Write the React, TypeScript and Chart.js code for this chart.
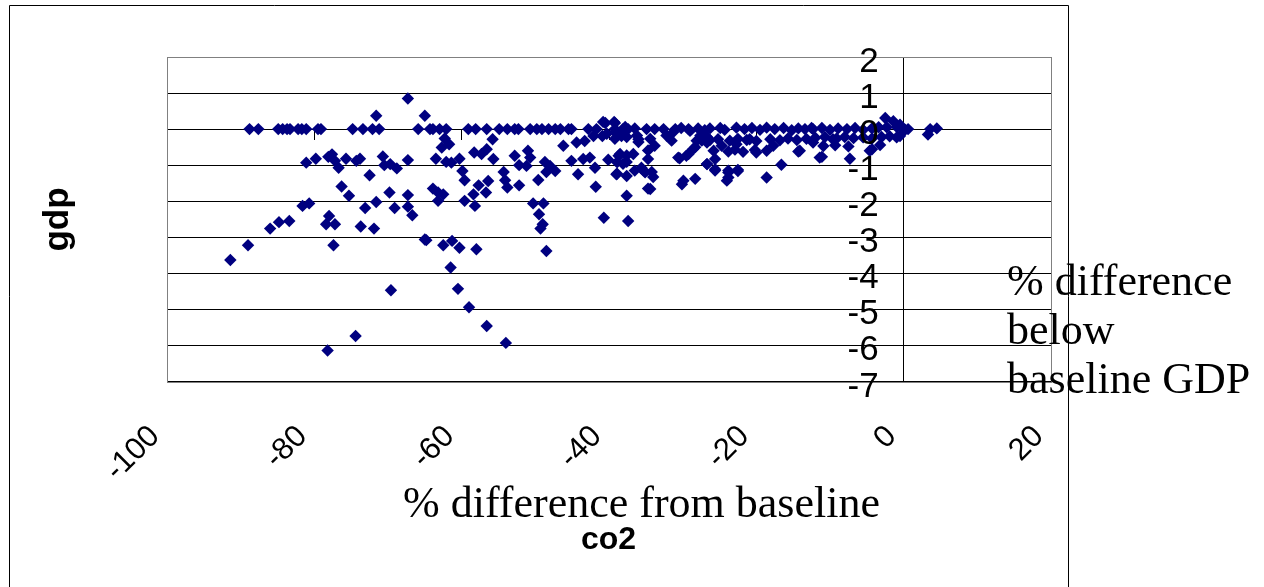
import React, { useEffect, useRef } from "react";
import { Chart, registerables } from "chart.js";

Chart.register(...registerables);

// ---- Axis ticks and texts ----
const xTickValues = [-100, -80, -60, -40, -20, 0, 20];
const yTickValues = [2, 1, 0, -1, -2, -3, -4, -5, -6, -7];
const xAxisCaption = "% difference from baseline";
const xAxisTitle = "co2";
const yAxisTitle = "gdp";
const yAxisCaption = ["% difference", "below", "baseline GDP"];

// ---- Data: [co2 % difference, gdp % difference] ----
const zeroRowPoints: [number, number][] = [
  [-88.8, 0], [-87.6, 0], [-84.9, 0], [-84.3, 0], [-83.7, 0], [-83.3, 0], [-82.2, 0],
  [-81.7, 0], [-81.1, 0], [-79.5, 0], [-79.1, 0], [-74.8, 0], [-73.4, 0], [-72.1, 0],
  [-71.2, 0], [-65.9, 0], [-64.3, 0], [-63.9, 0], [-63.0, 0], [-62.1, 0], [-59.1, 0],
  [-58.1, 0], [-56.6, 0], [-54.9, 0], [-53.8, 0], [-52.8, 0], [-52.3, 0], [-50.7, 0],
  [-49.8, 0], [-49.1, 0], [-48.2, 0], [-47.3, 0], [-46.6, 0], [-45.5, 0], [-45.1, 0],
  [-42.8, 0], [-41.7, 0], [-39.2, 0], [-38.1, 0], [-37.4, 0], [-34.9, 0], [-33.8, 0],
  [-32.6, 0], [-31.0, 0], [-29.2, 0],
];

const leftPoints: [number, number][] = [
  [-67.3, 0.85], [-71.6, 0.37], [-65.0, 0.37], [-81.1, -0.93], [-79.8, -0.82],
  [-78.1, -0.77], [-77.6, -0.7], [-77.2, -0.88], [-76.7, -1.07], [-75.7, -0.82],
  [-74.3, -0.88], [-73.8, -0.82], [-72.5, -1.28], [-70.7, -0.76], [-70.5, -1.0],
  [-69.7, -0.97], [-68.8, -1.09], [-67.3, -0.86], [-76.3, -1.59], [-75.3, -1.85],
  [-69.8, -1.76], [-67.3, -1.83], [-71.6, -2.02], [-73.1, -2.19], [-69.1, -2.19],
  [-67.3, -2.15], [-66.7, -2.39], [-81.6, -2.13], [-80.7, -2.06], [-83.4, -2.55],
  [-84.8, -2.58], [-86.0, -2.76], [-78.0, -2.41], [-78.4, -2.64], [-77.2, -2.64],
  [-73.7, -2.7], [-71.9, -2.76], [-65.0, -3.06], [-89.0, -3.22], [-91.4, -3.63],
  [-77.4, -3.22], [-69.6, -4.47], [-74.4, -5.74], [-78.2, -6.14],
];

const midPoints: [number, number][] = [
  [-40.8, 0.2], [-39.3, 0.2], [-62.3, -0.26], [-61.7, -0.42], [-62.7, -0.51],
  [-55.8, -0.28], [-56.6, -0.56], [-57.3, -0.69], [-58.3, -0.65], [-63.5, -0.82],
  [-62.1, -0.91], [-61.4, -0.93], [-60.3, -0.82], [-55.7, -0.83], [-52.8, -0.74],
  [-52.2, -1.0], [-51.0, -0.6], [-50.7, -0.79], [-51.2, -1.02], [-48.7, -0.91],
  [-48.0, -1.02], [-47.3, -1.16], [-48.5, -1.19], [-46.2, -0.46], [-44.4, -0.37],
  [-43.3, -0.33], [-42.1, -0.19], [-40.9, -0.19], [-38.3, -0.19], [-45.1, -0.88],
  [-43.5, -0.83], [-42.6, -0.79], [-41.9, -1.07], [-40.1, -0.85], [-38.7, -0.74],
  [-37.6, -0.91], [-36.7, -0.69], [-36.0, -0.28], [-35.6, -1.07], [-39.0, -1.25],
  [-37.6, -1.3], [-44.2, -1.25], [-59.9, -1.16], [-59.6, -1.42], [-54.3, -1.19],
  [-54.1, -1.42], [-53.8, -1.62], [-52.2, -1.56], [-49.6, -1.41], [-41.8, -1.6],
  [-34.7, -1.65], [-37.6, -1.85], [-63.9, -1.65], [-63.2, -1.76], [-62.5, -1.81],
  [-63.2, -1.99], [-57.7, -1.56], [-58.4, -1.81], [-56.7, -1.76], [-56.4, -1.44],
  [-59.6, -1.99], [-58.2, -2.13], [-50.3, -2.06], [-48.9, -2.06], [-49.5, -2.36],
  [-49.0, -2.64], [-49.3, -2.76], [-40.7, -2.46], [-37.4, -2.55], [-64.8, -3.08],
  [-62.5, -3.22], [-61.3, -3.1], [-60.3, -3.29], [-58.0, -3.33], [-48.5, -3.38],
  [-61.5, -3.84], [-60.5, -4.43], [-59.0, -4.94], [-56.6, -5.46], [-54.0, -5.93],
];

const nearPoints: [number, number][] = [
  [-40.5, 0.17], [-39.2, 0.17], [-40.3, -0.13], [-39.2, -0.08], [-39.2, -0.27],
  [-37.8, 0.06], [-37.6, -0.22], [-36.2, -0.18], [-36.0, -0.36], [-34.4, -0.27],
  [-32.2, -0.18], [-31.5, -0.32], [-27.6, -0.18], [-28.1, -0.32], [-26.7, -0.22],
  [-28.3, -0.5], [-29.2, -0.69], [-30.4, -0.81], [-34.7, -0.59], [-34.7, -0.83],
  [-38.5, -0.69], [-37.6, -0.73], [-38.9, -0.92], [-38.1, -0.96], [-38.9, -1.24],
  [-36.5, -1.15], [-35.3, -1.15], [-34.2, -1.19], [-34.0, -1.33], [-34.4, -1.66],
  [-29.9, -1.43], [-28.3, -1.38], [-27.4, -0.32], [-30.6, -0.79], [-29.5, -0.74],
  [-28.6, -0.56], [-30.1, -1.53], [-26.7, -0.97], [-25.6, -1.11], [-23.8, -1.2],
  [-22.5, -1.16], [-26.7, -0.37], [-24.7, -0.46], [-22.7, -0.42], [-20.0, -0.65],
  [-14.1, -0.6], [-11.4, -0.79], [-4.6, -0.6], [-29.0, -0.05], [-31.3, -0.09],
  [-17.7, -0.46], [-20.9, -0.28], [-12.3, -0.37], [-9.6, -0.28], [-33.8, -0.46],
  [-35.1, -1.2], [-36.5, 0.02], [-30.2, 0.03], [-27.9, 0.02], [-27.0, -0.03],
];

const rightPoints: [number, number][] = [
  [-26.3, 0.02], [-24.9, 0.03], [-24.3, -0.02], [-22.7, 0.04], [-21.6, 0.0],
  [-20.6, 0.03], [-19.5, -0.02], [-18.6, 0.04], [-17.5, 0.0], [-16.3, 0.03],
  [-15.2, -0.03], [-14.3, 0.02], [-13.4, 0.0], [-12.5, 0.03],
  [-26.3, -0.3], [-25.2, -0.28], [-23.6, -0.32], [-22.5, -0.27], [-21.3, -0.3],
  [-20.0, -0.33], [-18.1, -0.28], [-16.8, -0.31], [-15.7, -0.26], [-14.5, -0.3],
  [-13.2, -0.27],
  [-25.8, -0.6], [-23.8, -0.62], [-22.9, -0.57], [-21.8, -0.63], [-20.2, -0.58],
  [-18.6, -0.6], [-14.3, -0.62],
  [-25.6, -0.83], [-26.7, -0.97], [-25.6, -1.15], [-23.8, -1.15], [-22.5, -1.13],
  [-24.0, -1.43], [-16.6, -0.99], [-18.6, -1.34], [-23.8, -1.34],
  [-12.3, 0.0], [-11.1, 0.03], [-10.0, -0.02], [-8.9, 0.02], [-7.7, 0.0],
  [-6.6, 0.03], [-5.5, -0.02], [-4.3, 0.02], [-3.4, 0.05], [-0.9, 0.05],
  [0.2, -0.02], [-2.5, 0.31], [-1.4, 0.22], [-2.3, 0.05], [-0.5, 0.12],
  [-12.0, -0.24], [-10.7, -0.22], [-9.1, -0.26], [-8.0, -0.22], [-6.8, -0.25],
  [-5.5, -0.23], [-4.3, -0.26], [-3.0, -0.22], [-1.9, -0.2],
  [-10.9, -0.47], [-9.3, -0.45], [-7.5, -0.48], [-3.2, -0.44],
  [-11.1, -0.77], [-7.3, -0.82], [-4.3, -0.56], [-0.5, -0.19], [0.6, 0.0],
  [-0.95, -0.23], [3.6, 0.0], [4.5, 0.02], [3.3, -0.15],
];

const SANS = '"Liberation Sans", Arial, sans-serif';
const SERIF = '"Liberation Serif", "Times New Roman", serif';

const overlayPlugin = {
  id: "overlay",
  beforeDatasetsDraw(chart: any) {
    const { ctx, chartArea: a } = chart;
    ctx.save();
    ctx.strokeStyle = "#808080";
    ctx.lineWidth = 1;
    ctx.strokeRect(
      Math.round(a.left) + 0.5,
      Math.round(a.top) + 0.5,
      Math.round(a.right) - Math.round(a.left),
      Math.round(a.bottom) - Math.round(a.top)
    );
    ctx.restore();
  },
  afterDraw(chart: any) {
    const { ctx } = chart;
    const xs = chart.scales.x;
    const ys = chart.scales.y;
    ctx.save();
    // outer chart frame
    ctx.strokeStyle = "#000";
    ctx.lineWidth = 1;
    ctx.beginPath();
    ctx.moveTo(9.5, 600);
    ctx.lineTo(9.5, 5.5);
    ctx.lineTo(1068.5, 5.5);
    ctx.lineTo(1068.5, 600);
    ctx.stroke();

    ctx.fillStyle = "#000";
    // y tick labels next to the vertical axis (at x = 0)
    const x0 = xs.getPixelForValue(0);
    ctx.font = `35px ${SANS}`;
    ctx.textAlign = "right";
    ctx.textBaseline = "alphabetic";
    ys.ticks.forEach((t: any) => {
      ctx.fillText(String(t.value), x0 - 25, ys.getPixelForValue(t.value) + 15);
    });

    // x tick labels, rotated 45 degrees, below plot area
    ctx.font = `31px ${SANS}`;
    xs.ticks.forEach((t: any) => {
      const px = xs.getPixelForValue(t.value);
      ctx.save();
      ctx.translate(px - 12, ys.bottom + 50);
      ctx.rotate(-Math.PI / 4);
      ctx.textAlign = "right";
      ctx.textBaseline = "middle";
      ctx.fillText(String(t.value), 0, 0);
      ctx.restore();
    });

    // x axis caption and title
    ctx.font = `44px ${SERIF}`;
    ctx.textAlign = "center";
    ctx.textBaseline = "alphabetic";
    ctx.fillText(xAxisCaption, 641.5, 516.5);
    ctx.font = `bold 32px ${SANS}`;
    ctx.fillText(xAxisTitle, 608.5, 549);

    // y axis title (rotated)
    ctx.save();
    ctx.translate(68, 219.5);
    ctx.rotate(-Math.PI / 2);
    ctx.font = `bold 35px ${SANS}`;
    ctx.textAlign = "center";
    ctx.textBaseline = "alphabetic";
    ctx.fillText(yAxisTitle, 0, 0);
    ctx.restore();

    // right caption
    ctx.font = `44px ${SERIF}`;
    ctx.textAlign = "left";
    yAxisCaption.forEach((line, i) => {
      ctx.fillText(line, 1007, 295 + i * 49);
    });
    ctx.restore();
  },
};

export default function App() {
  const canvasRef = useRef<HTMLCanvasElement | null>(null);

  useEffect(() => {
    document.body.style.margin = "0";
    const canvas = canvasRef.current;
    if (!canvas) return;
    const data = [
      ...zeroRowPoints,
      ...leftPoints,
      ...midPoints,
      ...nearPoints,
      ...rightPoints,
    ].map(([x, y]) => ({ x, y }));

    const chart = new Chart(canvas, {
      type: "scatter",
      data: {
        datasets: [
          {
            label: "gdp",
            data,
            pointStyle: "rectRot",
            pointRadius: 6.2,
            pointHoverRadius: 6.2,
            backgroundColor: "#000080",
            borderColor: "#000080",
            borderWidth: 0,
          },
        ],
      },
      options: {
        animation: false,
        responsive: false,
        devicePixelRatio: 1,
        events: [],
        layout: { padding: { left: 167, top: 57, right: 213, bottom: 205.5 } },
        plugins: {
          legend: { display: false },
          tooltip: { enabled: false },
          title: { display: false },
        },
        scales: {
          x: {
            type: "linear",
            position: { y: 0 } as any,
            min: -100,
            max: 20,
            afterBuildTicks: (s: any) => {
              s.ticks = xTickValues.map((v) => ({ value: v }));
            },
            ticks: { display: false },
            grid: {
              display: true,
              drawOnChartArea: false,
              drawTicks: true,
              tickLength: 10,
              color: "#000",
              lineWidth: 1,
            },
            border: { display: true, color: "#000", width: 1 },
          },
          y: {
            type: "linear",
            position: { x: 0 } as any,
            min: -7,
            max: 2,
            afterBuildTicks: (s: any) => {
              s.ticks = yTickValues.map((v) => ({ value: v }));
            },
            ticks: { display: false },
            grid: {
              display: true,
              drawOnChartArea: true,
              drawTicks: true,
              tickLength: 8,
              color: "#000",
              lineWidth: 1,
            },
            border: { display: true, color: "#000", width: 1 },
          },
        },
      },
      plugins: [overlayPlugin],
    });
    return () => chart.destroy();
  }, []);

  return (
    <div style={{ position: "absolute", left: 0, top: 0, width: 1264, height: 587, background: "#fff" }}>
      <canvas ref={canvasRef} width={1264} height={587} style={{ display: "block" }} />
    </div>
  );
}
